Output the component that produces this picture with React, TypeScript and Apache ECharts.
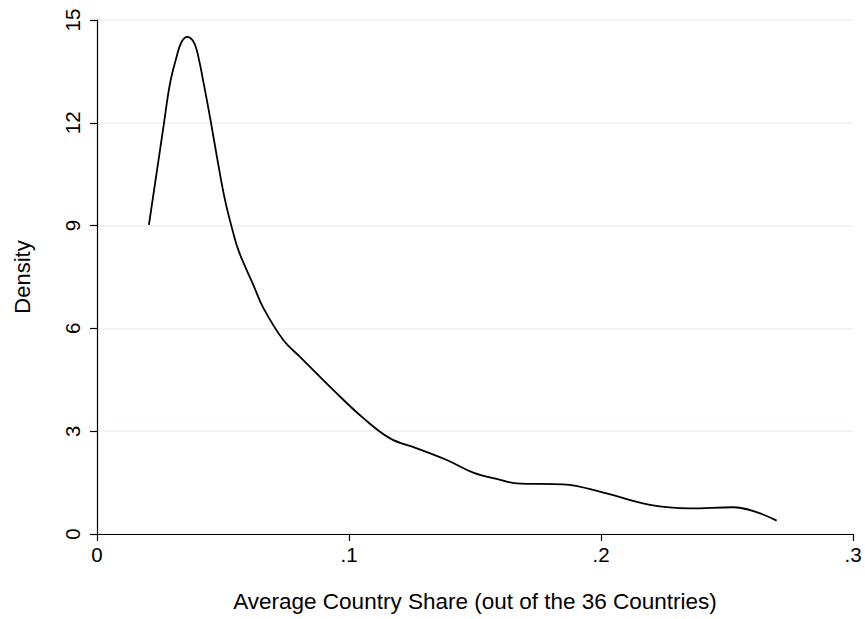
import React, { useEffect, useRef } from "react";
import * as echarts from "echarts";

const shareValues: number[] = [
  0.0206, 0.025, 0.0266, 0.029, 0.0316, 0.0335, 0.0358, 0.038, 0.0396, 0.04246,
  0.04524, 0.04782, 0.05079, 0.05409, 0.05607, 0.0594, 0.06202, 0.06599, 0.07393, 0.08056,
  0.0938, 0.1057, 0.1163, 0.1269, 0.1388, 0.1493, 0.16, 0.1665, 0.185, 0.2009,
  0.2194, 0.2353, 0.2525, 0.2697,
];
const densityValues: number[] = [
  9.02, 11.2, 12.0, 13.16, 13.93, 14.35, 14.51, 14.4, 14.12, 13.1,
  12.0, 10.91, 9.75, 8.78, 8.29, 7.7, 7.27, 6.6, 5.66, 5.17,
  4.2, 3.38, 2.79, 2.5, 2.16, 1.79, 1.58, 1.48, 1.45, 1.21,
  0.85, 0.75, 0.78, 0.39,
];
const xTickLabels: Record<string, string> = { "0": "0", "0.1": ".1", "0.2": ".2", "0.3": ".3" };
const xTitle = "Average Country Share (out of the 36 Countries)";
const yTitle = "Density";

const FONT = "'Liberation Sans', Arial, sans-serif";

export default function App() {
  const ref = useRef<HTMLDivElement>(null);
  useEffect(() => {
    document.body.style.margin = "0";
    if (!ref.current) return;
    const chart = echarts.init(ref.current, undefined, { renderer: "svg" });
    const data = shareValues.map((x, i) => [x, densityValues[i]]);
    chart.setOption({
      animation: false,
      backgroundColor: "#ffffff",
      grid: { left: 97, right: 12, top: 20, bottom: 85, containLabel: false },
      xAxis: {
        type: "value",
        min: 0,
        max: 0.3,
        interval: 0.1,
        name: xTitle,
        nameLocation: "middle",
        nameGap: 56,
        nameTextStyle: { color: "#000", fontSize: 22.5, fontFamily: FONT },
        axisLine: { show: true, onZero: false, lineStyle: { color: "#000", width: 1.2 } },
        axisTick: { show: true, length: 7, lineStyle: { color: "#000", width: 1.2 } },
        axisLabel: {
          color: "#000",
          fontSize: 20.5,
          fontFamily: FONT,
          margin: 10,
          formatter: (v: number) => xTickLabels[String(Math.round(v * 10) / 10)] ?? String(v),
        },
        splitLine: { show: false },
      },
      yAxis: {
        type: "value",
        min: 0,
        max: 15,
        interval: 3,
        name: yTitle,
        nameLocation: "middle",
        nameGap: 64,
        nameTextStyle: { color: "#000", fontSize: 22, fontFamily: FONT },
        axisLine: { show: true, lineStyle: { color: "#000", width: 1.2 } },
        axisTick: { show: true, length: 7, lineStyle: { color: "#000", width: 1.2 } },
        axisLabel: {
          color: "#000",
          fontSize: 20.5,
          fontFamily: FONT,
          rotate: 90,
          margin: 14,
        },
        splitLine: { show: true, lineStyle: { color: "#eaf1f3", width: 1.5 } },
      },
      series: [
        {
          type: "line",
          data,
          smooth: 0.4,
          showSymbol: false,
          lineStyle: { color: "#000", width: 1.8 },
          itemStyle: { color: "#000" },
        },
      ],
    });
    return () => chart.dispose();
  }, []);
  return <div ref={ref} style={{ width: 865, height: 619 }} />;
}
